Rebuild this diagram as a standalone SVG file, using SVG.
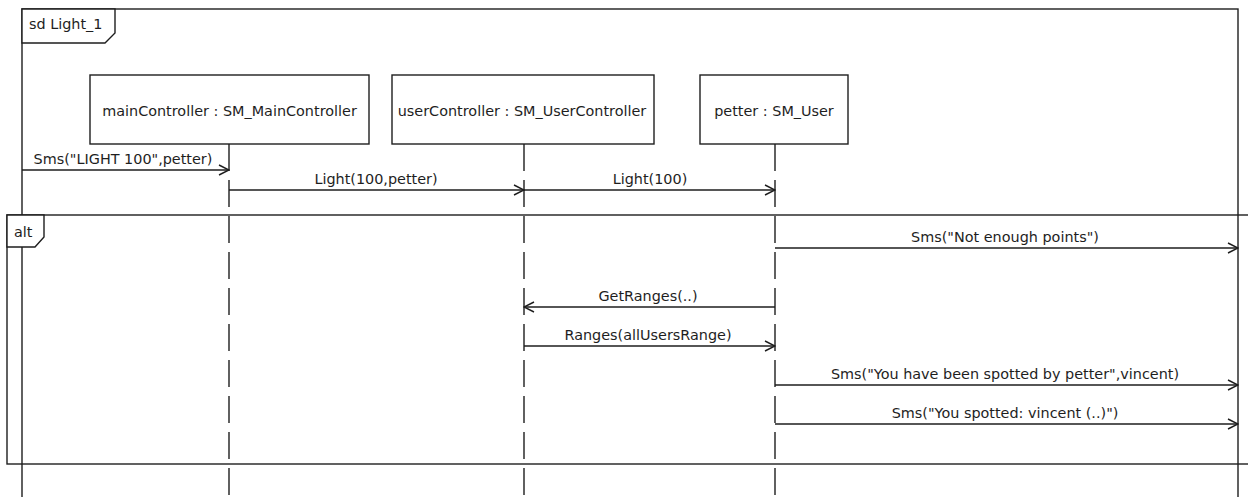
<svg xmlns="http://www.w3.org/2000/svg" width="1248" height="497" viewBox="0 0 1248 497">
<style>
  .ln{fill:none;stroke:#1e1e1e;stroke-width:1.4}
  .box{fill:#fff;stroke:#1e1e1e;stroke-width:1.4}
  .life{fill:none;stroke:#1e1e1e;stroke-width:1.4;stroke-dasharray:27 9}
  .msg{fill:none;stroke:#1e1e1e;stroke-width:1.4;marker-end:url(#open)}
  text{font-family:"DejaVu Sans","Liberation Sans",sans-serif;font-size:14.4px;fill:#1e1e1e}
  .c{text-anchor:middle}
</style>
<defs>
  <marker id="open" viewBox="0 0 12 12" refX="11" refY="6" markerWidth="12" markerHeight="12" markerUnits="userSpaceOnUse" orient="auto">
    <path d="M1,1 L11,6 L1,11" fill="none" stroke="#1e1e1e" stroke-width="1.4"/>
  </marker>
</defs>
<rect x="0" y="0" width="1248" height="497" fill="#fff"/>

<g id="frame-sd">
  <rect class="ln" x="22" y="9" width="1216" height="520"/>
  <path class="box" d="M22,9 H115 V33 L105,43 H22 Z"/>
  <text x="29" y="29">sd Light_1</text>
</g>

<g id="lifelines">
  <line class="life" x1="229" y1="144" x2="229" y2="497"/>
  <line class="life" x1="524" y1="144" x2="524" y2="497"/>
  <line class="life" x1="775" y1="144" x2="775" y2="497"/>
</g>

<g id="node-mainController">
  <rect class="box" x="90" y="75" width="279" height="69"/>
  <text class="c" x="229.5" y="116">mainController : SM_MainController</text>
</g>
<g id="node-userController">
  <rect class="box" x="392" y="75" width="262" height="69"/>
  <text class="c" x="522" y="116">userController : SM_UserController</text>
</g>
<g id="node-petter">
  <rect class="box" x="700" y="75" width="148" height="69"/>
  <text class="c" x="774" y="116">petter : SM_User</text>
</g>

<g id="frame-alt">
  <rect class="ln" x="7" y="215" width="1260" height="249"/>
  <path class="box" d="M7,215 H44 V237 L35,247 H7 Z"/>
  <text x="14" y="237">alt</text>
</g>

<g id="connectors">
  <line class="msg" x1="22" y1="170" x2="229" y2="170"/>
  <text class="c" x="123" y="164">Sms("LIGHT 100",petter)</text>
  <line class="msg" x1="229" y1="190" x2="524" y2="190"/>
  <text class="c" x="376" y="184">Light(100,petter)</text>
  <line class="msg" x1="524" y1="190" x2="775" y2="190"/>
  <text class="c" x="650" y="184">Light(100)</text>
  <line class="msg" x1="775" y1="248" x2="1238" y2="248"/>
  <text class="c" x="1005" y="242">Sms("Not enough points")</text>
  <line class="msg" x1="775" y1="307" x2="524" y2="307"/>
  <text class="c" x="648" y="301">GetRanges(..)</text>
  <line class="msg" x1="524" y1="346" x2="775" y2="346"/>
  <text class="c" x="648" y="340">Ranges(allUsersRange)</text>
  <line class="msg" x1="775" y1="385" x2="1238" y2="385"/>
  <text class="c" x="1005" y="379">Sms("You have been spotted by petter",vincent)</text>
  <line class="msg" x1="775" y1="424" x2="1238" y2="424"/>
  <text class="c" x="1005" y="418">Sms("You spotted: vincent (..)")</text>
</g>
</svg>
